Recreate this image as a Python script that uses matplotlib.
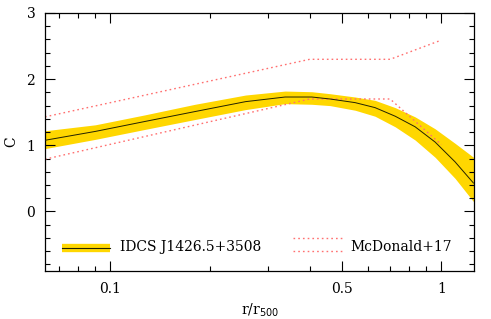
import matplotlib
matplotlib.use("Agg")
import matplotlib.pyplot as plt
import numpy as np
from matplotlib.ticker import FixedLocator, NullFormatter, FixedFormatter

plt.rcParams['font.family'] = ['DejaVu Serif']
plt.rcParams['mathtext.fontset'] = 'dejavuserif'

# IDCS J1426.5+3508 concentration profile: median, lower and upper edge of band
r_idcs = [0.0634, 0.09, 0.127, 0.18, 0.256, 0.337, 0.406, 0.461, 0.549, 0.630, 0.725, 0.833, 0.957, 1.10, 1.25]
c_med = [1.076, 1.21, 1.36, 1.51, 1.66, 1.73, 1.73, 1.70, 1.645, 1.57, 1.44, 1.28, 1.05, 0.75, 0.43]
c_hi = [1.22, 1.31, 1.46, 1.62, 1.76, 1.82, 1.81, 1.78, 1.73, 1.68, 1.57, 1.43, 1.25, 1.03, 0.82]
c_lo = [0.95, 1.09, 1.24, 1.39, 1.54, 1.63, 1.62, 1.60, 1.53, 1.44, 1.28, 1.08, 0.82, 0.50, 0.15]

# McDonald+17 envelope
r_mcd = [0.0634, 0.4, 0.7, 1.0]
c_mcd_hi = [1.43, 2.30, 2.30, 2.59]
c_mcd_lo = [0.79, 1.70, 1.70, 1.01]

xticks = [0.1, 0.5, 1]
xticklabels = ['0.1', '0.5', '1']
xminor = [0.07, 0.08, 0.09, 0.2, 0.3, 0.4, 0.6, 0.7, 0.8, 0.9]
yticks = [0, 1, 2, 3]

fig = plt.figure(figsize=(4.91, 3.19), dpi=100)
ax = fig.add_axes([45/491, 1-271/319, 429/491, 258/319])

ax.fill_between(r_idcs, c_lo, c_hi, color='#FFD700', lw=0, zorder=1)
ax.plot(r_idcs, c_med, color='#222200', lw=0.7, zorder=3)

red = '#FF7070'
ax.plot(r_mcd, c_mcd_hi, color=red, lw=1.0, ls=(0, (1.2, 2.2)), zorder=2)
ax.plot(r_mcd, c_mcd_lo, color=red, lw=1.0, ls=(0, (1.2, 2.2)), zorder=2)

ax.set_xscale('log')
ax.set_xlim(0.0634, 1.255)
ax.set_ylim(-0.9, 3.0)

ax.xaxis.set_major_locator(FixedLocator(xticks))
ax.xaxis.set_major_formatter(FixedFormatter(xticklabels))
ax.xaxis.set_minor_locator(FixedLocator(xminor))
ax.xaxis.set_minor_formatter(NullFormatter())
ax.yaxis.set_major_locator(FixedLocator(yticks))
ax.yaxis.set_minor_locator(FixedLocator(np.arange(-0.8, 3.0, 0.2)))

ax.tick_params(which='both', direction='in', top=True, right=True, labelsize=10)
ax.tick_params(which='major', length=7, width=0.8)
ax.tick_params(which='minor', length=3.6, width=0.8)
ax.tick_params(axis='x', which='major', pad=8)
ax.tick_params(axis='y', which='major', pad=7)
for s in ax.spines.values():
    s.set_linewidth(0.9)

ax.set_xlabel(r'r/r$_{\mathsf{500}}$', fontsize=10, labelpad=4)
ax.set_ylabel('C', fontsize=10)
ax.yaxis.set_label_coords(-0.063, 0.5)

# legend (drawn manually in axes coordinates)
T = ax.transAxes
ax.plot([0.0396, 0.1515], [0.0903, 0.0903], transform=T, color='#FFD700', lw=6, solid_capstyle='butt', zorder=4)
ax.plot([0.0396, 0.1515], [0.0903, 0.0903], transform=T, color='#222200', lw=0.8, zorder=5)
ax.text(0.175, 0.092, 'IDCS J1426.5+3508', transform=T, fontsize=10, va='center', ha='left')
ax.plot([0.578, 0.692], [0.129, 0.129], transform=T, color=red, lw=1.0, ls=(0, (1.2, 2.2)))
ax.plot([0.578, 0.692], [0.0787, 0.0787], transform=T, color=red, lw=1.0, ls=(0, (1.2, 2.2)))
ax.text(0.7125, 0.092, 'McDonald+17', transform=T, fontsize=10, va='center', ha='left')

fig.savefig('out.png', dpi=100)
